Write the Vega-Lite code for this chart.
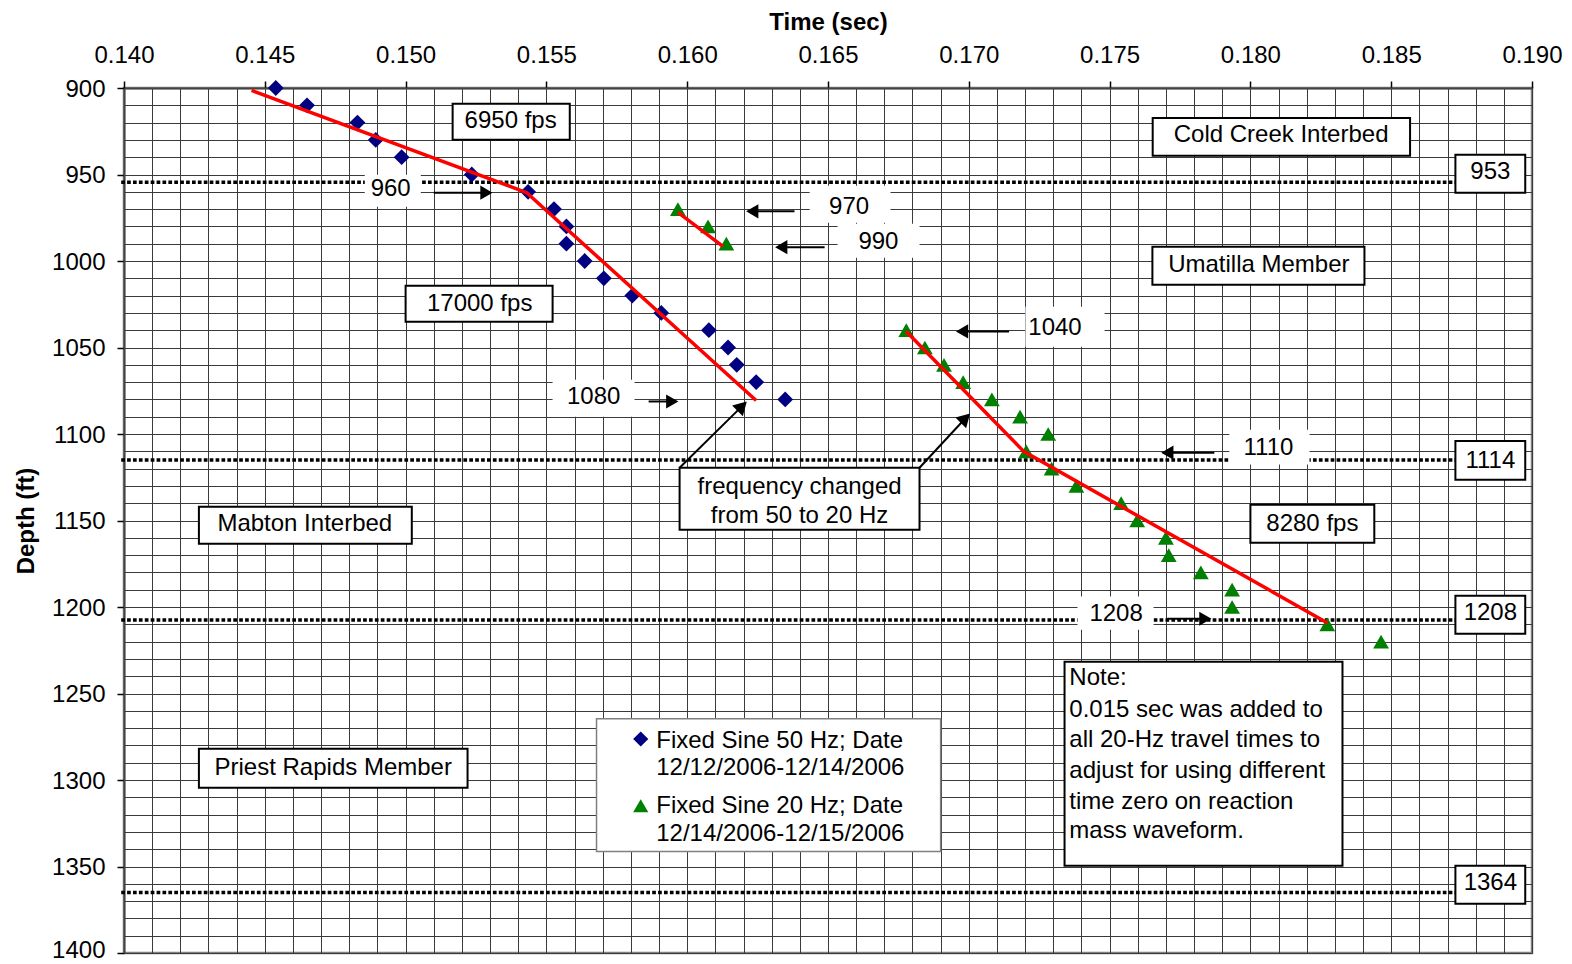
{
  "$schema": "https://vega.github.io/schema/vega-lite/v6.json",
  "width": 1408,
  "height": 865,
  "autosize": "none",
  "padding": {"left": 124, "top": 88, "right": 40, "bottom": 11},
  "background": "white",
  "config": {
    "font": "Liberation Sans",
    "view": {"stroke": "#808080", "strokeWidth": 2.5},
    "text": {"fontSize": 24, "font": "Liberation Sans", "baseline": "middle", "color": "#000", "dy": 2},
    "axis": {
      "labelFont": "Liberation Sans", "titleFont": "Liberation Sans",
      "labelFontSize": 24, "titleFontSize": 24, "titleFontWeight": "bold",
      "labelColor": "#000", "titleColor": "#000",
      "tickColor": "#000", "tickSize": 7, "tickWidth": 1.5,
      "domainColor": "#444", "domainWidth": 2,
      "gridColor": "#3a3a3a", "gridWidth": 1, "gridOpacity": 1,
      "labelOverlap": false, "labelFlush": false
    }
  },
  "datasets": {
    "pts": [
      {"series": "Fixed Sine 50 Hz", "t": 0.14539, "d": 900},
      {"series": "Fixed Sine 50 Hz", "t": 0.14650, "d": 910},
      {"series": "Fixed Sine 50 Hz", "t": 0.14829, "d": 920},
      {"series": "Fixed Sine 50 Hz", "t": 0.14894, "d": 930},
      {"series": "Fixed Sine 50 Hz", "t": 0.14986, "d": 940},
      {"series": "Fixed Sine 50 Hz", "t": 0.15235, "d": 950},
      {"series": "Fixed Sine 50 Hz", "t": 0.15435, "d": 960},
      {"series": "Fixed Sine 50 Hz", "t": 0.15527, "d": 970},
      {"series": "Fixed Sine 50 Hz", "t": 0.15571, "d": 980},
      {"series": "Fixed Sine 50 Hz", "t": 0.15571, "d": 990},
      {"series": "Fixed Sine 50 Hz", "t": 0.15636, "d": 1000},
      {"series": "Fixed Sine 50 Hz", "t": 0.15704, "d": 1010},
      {"series": "Fixed Sine 50 Hz", "t": 0.15805, "d": 1020},
      {"series": "Fixed Sine 50 Hz", "t": 0.15908, "d": 1030},
      {"series": "Fixed Sine 50 Hz", "t": 0.16077, "d": 1040},
      {"series": "Fixed Sine 50 Hz", "t": 0.16145, "d": 1050},
      {"series": "Fixed Sine 50 Hz", "t": 0.16176, "d": 1060},
      {"series": "Fixed Sine 50 Hz", "t": 0.16245, "d": 1070},
      {"series": "Fixed Sine 50 Hz", "t": 0.16348, "d": 1080},
      {"series": "Fixed Sine 20 Hz", "t": 0.15967, "d": 970},
      {"series": "Fixed Sine 20 Hz", "t": 0.16074, "d": 980},
      {"series": "Fixed Sine 20 Hz", "t": 0.16139, "d": 990},
      {"series": "Fixed Sine 20 Hz", "t": 0.16778, "d": 1040},
      {"series": "Fixed Sine 20 Hz", "t": 0.16844, "d": 1050},
      {"series": "Fixed Sine 20 Hz", "t": 0.16912, "d": 1060},
      {"series": "Fixed Sine 20 Hz", "t": 0.16980, "d": 1070},
      {"series": "Fixed Sine 20 Hz", "t": 0.17082, "d": 1080},
      {"series": "Fixed Sine 20 Hz", "t": 0.17182, "d": 1090},
      {"series": "Fixed Sine 20 Hz", "t": 0.17282, "d": 1100},
      {"series": "Fixed Sine 20 Hz", "t": 0.17204, "d": 1110},
      {"series": "Fixed Sine 20 Hz", "t": 0.17294, "d": 1120},
      {"series": "Fixed Sine 20 Hz", "t": 0.17382, "d": 1130},
      {"series": "Fixed Sine 20 Hz", "t": 0.17541, "d": 1140},
      {"series": "Fixed Sine 20 Hz", "t": 0.17598, "d": 1150},
      {"series": "Fixed Sine 20 Hz", "t": 0.17700, "d": 1160},
      {"series": "Fixed Sine 20 Hz", "t": 0.17710, "d": 1170},
      {"series": "Fixed Sine 20 Hz", "t": 0.17824, "d": 1180},
      {"series": "Fixed Sine 20 Hz", "t": 0.17935, "d": 1190},
      {"series": "Fixed Sine 20 Hz", "t": 0.17935, "d": 1200},
      {"series": "Fixed Sine 20 Hz", "t": 0.18273, "d": 1210},
      {"series": "Fixed Sine 20 Hz", "t": 0.18464, "d": 1220}
    ],
    "fits": [
      {"seg": "A", "t": 0.14453, "d": 901.4},
      {"seg": "A", "t": 0.15430, "d": 960.5},
      {"seg": "A", "t": 0.16245, "d": 1080.6},
      {"seg": "B", "t": 0.15967, "d": 971.9},
      {"seg": "B", "t": 0.16127, "d": 991.6},
      {"seg": "C", "t": 0.16777, "d": 1040.6},
      {"seg": "C", "t": 0.17196, "d": 1110.2},
      {"seg": "C", "t": 0.18274, "d": 1209.2}
    ],
    "hl": [
      {"t1": 0.1399, "t2": 0.18728, "d": 954.5},
      {"t1": 0.1399, "t2": 0.18728, "d": 1115},
      {"t1": 0.1399, "t2": 0.18728, "d": 1207.5},
      {"t1": 0.1399, "t2": 0.18728, "d": 1365}
    ],
    "wl": [
      {"label": "960", "t1": 0.14855, "t2": 0.15054, "d1": 950.1, "d2": 968.6, "tx": 0.14947, "ty": 957.1},
      {"label": "970", "t1": 0.16435, "t2": 0.16722, "d1": 956.5, "d2": 977.9, "tx": 0.16575, "ty": 967.7},
      {"label": "990", "t1": 0.16534, "t2": 0.16825, "d1": 978.4, "d2": 998.1, "tx": 0.16679, "ty": 987.7},
      {"label": "1040", "t1": 0.17201, "t2": 0.17482, "d1": 1026.4, "d2": 1049.5, "tx": 0.17306, "ty": 1037.8},
      {"label": "1080", "t1": 0.15522, "t2": 0.15813, "d1": 1068.6, "d2": 1090.0, "tx": 0.15668, "ty": 1077.7},
      {"label": "1110", "t1": 0.17925, "t2": 0.18210, "d1": 1097.5, "d2": 1117.7, "tx": 0.18064, "ty": 1106.8},
      {"label": "1208", "t1": 0.17386, "t2": 0.17656, "d1": 1194.0, "d2": 1213.1, "tx": 0.17523, "ty": 1202.7}
    ],
    "arrows": [
      {"t1": 0.15100, "d1": 960.5, "t2": 0.15287, "d2": 960.5, "dir": "right"},
      {"t1": 0.16381, "d1": 971.3, "t2": 0.16231, "d2": 971.3, "dir": "left"},
      {"t1": 0.16488, "d1": 992.0, "t2": 0.16334, "d2": 992.0, "dir": "left"},
      {"t1": 0.17143, "d1": 1040.7, "t2": 0.16976, "d2": 1040.7, "dir": "left"},
      {"t1": 0.15863, "d1": 1081.2, "t2": 0.15947, "d2": 1081.2, "dir": "right"},
      {"t1": 0.17872, "d1": 1110.8, "t2": 0.17705, "d2": 1110.8, "dir": "left"},
      {"t1": 0.17705, "d1": 1206.8, "t2": 0.17840, "d2": 1206.8, "dir": "right"},
      {"t1": 0.15973, "d1": 1119.5, "t2": 0.16195, "d2": 1083.9, "dir": "upright"},
      {"t1": 0.16825, "d1": 1119.5, "t2": 0.16988, "d2": 1090.9, "dir": "upright"}
    ],
    "boxes": [
      {"t1": 0.15167, "t2": 0.15583, "d1": 909.1, "d2": 929.9},
      {"t1": 0.15000, "t2": 0.15522, "d1": 1014.3, "d2": 1035.1},
      {"t1": 0.17653, "t2": 0.18567, "d1": 917.3, "d2": 939.1},
      {"t1": 0.17652, "t2": 0.18405, "d1": 991.7, "d2": 1013.7},
      {"t1": 0.14266, "t2": 0.15022, "d1": 1142.0, "d2": 1163.4},
      {"t1": 0.14266, "t2": 0.15220, "d1": 1281.9, "d2": 1304.5},
      {"t1": 0.18000, "t2": 0.18440, "d1": 1140.9, "d2": 1162.8},
      {"t1": 0.15973, "t2": 0.16825, "d1": 1119.5, "d2": 1155.3},
      {"t1": 0.17340, "t2": 0.18327, "d1": 1231.6, "d2": 1349.5},
      {"t1": 0.18728, "t2": 0.18976, "d1": 938.6, "d2": 960.5},
      {"t1": 0.18728, "t2": 0.18976, "d1": 1104.0, "d2": 1126.5},
      {"t1": 0.18728, "t2": 0.18976, "d1": 1193.5, "d2": 1215.5},
      {"t1": 0.18728, "t2": 0.18976, "d1": 1349.5, "d2": 1371.6}
    ],
    "boxtext": [
      {"text": "6950 fps", "t": 0.15373, "d": 917.7},
      {"text": "17000 fps", "t": 0.15263, "d": 1023.5},
      {"text": "Cold Creek Interbed", "t": 0.18109, "d": 926.1},
      {"text": "Umatilla Member", "t": 0.18030, "d": 1001.0},
      {"text": "Mabton Interbed", "t": 0.14642, "d": 1151.0},
      {"text": "Priest Rapids Member", "t": 0.14743, "d": 1291.7},
      {"text": "8280 fps", "t": 0.18220, "d": 1150.7},
      {"text": "frequency changed", "t": 0.16399, "d": 1129.3},
      {"text": "from 50 to 20 Hz", "t": 0.16399, "d": 1146.1},
      {"text": "953", "t": 0.18852, "d": 947.2},
      {"text": "1114", "t": 0.18852, "d": 1114.3},
      {"text": "1208", "t": 0.18852, "d": 1202.5},
      {"text": "1364", "t": 0.18852, "d": 1358.6}
    ],
    "notetext": [
      {"text": "Note:", "t": 0.17357, "d": 1240.1},
      {"text": "0.015 sec was added to", "t": 0.17357, "d": 1258.4},
      {"text": "all 20-Hz travel times to", "t": 0.17357, "d": 1275.7},
      {"text": "adjust for using different", "t": 0.17357, "d": 1293.5},
      {"text": "time zero on reaction", "t": 0.17357, "d": 1311.4},
      {"text": "mass waveform.", "t": 0.17357, "d": 1328.3}
    ],
    "legendbox": [
      {"t1": 0.15678, "t2": 0.16900, "d1": 1264.6, "d2": 1341.4}
    ],
    "legendsym": [
      {"series": "Fixed Sine 50 Hz", "t": 0.15835, "d": 1276.3},
      {"series": "Fixed Sine 20 Hz", "t": 0.15835, "d": 1314.9}
    ],
    "legendtext": [
      {"text": "Fixed Sine 50 Hz; Date", "t": 0.15890, "d": 1276.1},
      {"text": "12/12/2006-12/14/2006", "t": 0.15890, "d": 1292.1},
      {"text": "Fixed Sine 20 Hz; Date", "t": 0.15890, "d": 1313.7},
      {"text": "12/14/2006-12/15/2006", "t": 0.15890, "d": 1329.9}
    ]
  },
  "layer": [
    {
      "data": {"name": "hl"},
      "mark": {"type": "rule", "color": "#000", "strokeWidth": 3.5, "strokeDash": [3.7, 2.2], "strokeCap": "butt"},
      "encoding": {
        "x": {
          "field": "t1", "type": "quantitative",
          "scale": {"domain": [0.14, 0.19], "nice": false, "zero": false},
          "axis": {
            "orient": "top", "title": "Time (sec)", "tickCount": 50,
            "labelExpr": "abs(datum.value*200 - round(datum.value*200)) < 0.001 ? format(datum.value, '.3f') : ''",
            "tickOpacity": {"condition": {"test": "abs(datum.value*200 - round(datum.value*200)) < 0.001", "value": 1}, "value": 0},
            "labelPadding": 14, "titleY": -59, "titleBaseline": "alphabetic"
          }
        },
        "x2": {"field": "t2"},
        "y": {
          "field": "d", "type": "quantitative",
          "scale": {"domain": [900, 1400], "reverse": true, "nice": false, "zero": false},
          "axis": {
            "title": "Depth (ft)", "tickCount": 50,
            "labelExpr": "datum.value % 50 === 0 ? format(datum.value, 'd') : ''",
            "tickOpacity": {"condition": {"test": "datum.value % 50 === 0", "value": 1}, "value": 0},
            "labelOffset": {"condition": {"test": "datum.value >= 1400", "value": -3}, "value": 1},
            "labelPadding": 12, "titleX": -98, "titleY": 432.5, "titleBaseline": "middle", "titleAlign": "center"
          }
        }
      }
    },
    {
      "data": {"name": "wl"},
      "mark": {"type": "rect", "fill": "white", "strokeWidth": 0},
      "encoding": {
        "x": {"field": "t1", "type": "quantitative"},
        "x2": {"field": "t2"},
        "y": {"field": "d1", "type": "quantitative"},
        "y2": {"field": "d2"}
      }
    },
    {
      "data": {"name": "wl"},
      "mark": {"type": "text", "align": "center"},
      "encoding": {
        "x": {"field": "tx", "type": "quantitative"},
        "y": {"field": "ty", "type": "quantitative"},
        "text": {"field": "label"}
      }
    },
    {
      "data": {"name": "arrows"},
      "mark": {"type": "rule", "color": "#000", "strokeWidth": 2},
      "encoding": {
        "x": {"field": "t1", "type": "quantitative"},
        "x2": {"field": "t2"},
        "y": {"field": "d1", "type": "quantitative"},
        "y2": {"field": "d2"}
      }
    },
    {
      "data": {"name": "arrows"},
      "transform": [{"filter": "datum.dir === 'right'"}],
      "mark": {"type": "point", "shape": "triangle-right", "filled": true, "color": "#000", "size": 200, "opacity": 1},
      "encoding": {
        "x": {"field": "t2", "type": "quantitative"},
        "y": {"field": "d2", "type": "quantitative"}
      }
    },
    {
      "data": {"name": "arrows"},
      "transform": [{"filter": "datum.dir === 'left'"}],
      "mark": {"type": "point", "shape": "triangle-left", "filled": true, "color": "#000", "size": 200, "opacity": 1},
      "encoding": {
        "x": {"field": "t2", "type": "quantitative"},
        "y": {"field": "d2", "type": "quantitative"}
      }
    },
    {
      "data": {"name": "arrows"},
      "transform": [{"filter": "datum.dir === 'upright'"}],
      "mark": {"type": "point", "shape": "triangle-up", "angle": 45, "filled": true, "color": "#000", "size": 230, "opacity": 1},
      "encoding": {
        "x": {"field": "t2", "type": "quantitative"},
        "y": {"field": "d2", "type": "quantitative"}
      }
    },
    {
      "data": {"name": "boxes"},
      "mark": {"type": "rect", "fill": "white", "stroke": "#000", "strokeWidth": 2},
      "encoding": {
        "x": {"field": "t1", "type": "quantitative"},
        "x2": {"field": "t2"},
        "y": {"field": "d1", "type": "quantitative"},
        "y2": {"field": "d2"}
      }
    },
    {
      "data": {"name": "boxtext"},
      "mark": {"type": "text", "align": "center"},
      "encoding": {
        "x": {"field": "t", "type": "quantitative"},
        "y": {"field": "d", "type": "quantitative"},
        "text": {"field": "text"}
      }
    },
    {
      "data": {"name": "notetext"},
      "mark": {"type": "text", "align": "left"},
      "encoding": {
        "x": {"field": "t", "type": "quantitative"},
        "y": {"field": "d", "type": "quantitative"},
        "text": {"field": "text"}
      }
    },
    {
      "data": {"name": "pts"},
      "mark": {"type": "point", "filled": true, "opacity": 1, "size": 250},
      "encoding": {
        "x": {"field": "t", "type": "quantitative"},
        "y": {"field": "d", "type": "quantitative"},
        "color": {"field": "series", "type": "nominal", "legend": null,
          "scale": {"domain": ["Fixed Sine 50 Hz", "Fixed Sine 20 Hz"], "range": ["#000080", "#008000"]}},
        "shape": {"field": "series", "type": "nominal", "legend": null,
          "scale": {"domain": ["Fixed Sine 50 Hz", "Fixed Sine 20 Hz"], "range": ["diamond", "triangle-up"]}}
      }
    },
    {
      "data": {"name": "fits"},
      "mark": {"type": "line", "color": "#FF0000", "strokeWidth": 3.5},
      "encoding": {
        "x": {"field": "t", "type": "quantitative"},
        "y": {"field": "d", "type": "quantitative"},
        "detail": {"field": "seg", "type": "nominal"}
      }
    },
    {
      "data": {"name": "legendbox"},
      "mark": {"type": "rect", "fill": "white", "stroke": "#808080", "strokeWidth": 1.5},
      "encoding": {
        "x": {"field": "t1", "type": "quantitative"},
        "x2": {"field": "t2"},
        "y": {"field": "d1", "type": "quantitative"},
        "y2": {"field": "d2"}
      }
    },
    {
      "data": {"name": "legendsym"},
      "mark": {"type": "point", "filled": true, "opacity": 1, "size": 230},
      "encoding": {
        "x": {"field": "t", "type": "quantitative"},
        "y": {"field": "d", "type": "quantitative"},
        "color": {"field": "series", "type": "nominal", "legend": null},
        "shape": {"field": "series", "type": "nominal", "legend": null}
      }
    },
    {
      "data": {"name": "legendtext"},
      "mark": {"type": "text", "align": "left"},
      "encoding": {
        "x": {"field": "t", "type": "quantitative"},
        "y": {"field": "d", "type": "quantitative"},
        "text": {"field": "text"}
      }
    }
  ]
}
